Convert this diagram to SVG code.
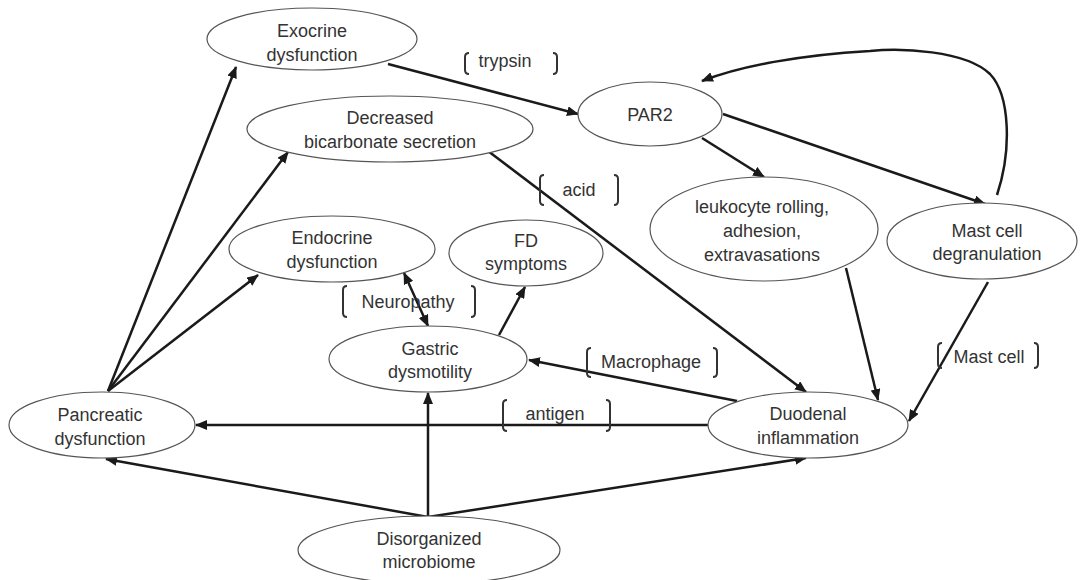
<svg xmlns="http://www.w3.org/2000/svg" width="1080" height="580" viewBox="0 0 1080 580">
<defs>
<marker id="ah" markerUnits="userSpaceOnUse" markerWidth="12" markerHeight="10" refX="11" refY="5" orient="auto-start-reverse">
<path d="M0,0 L12,5 L0,10 z" fill="#1a1a1a"/>
</marker>
</defs>
<style>
.node ellipse{fill:#fff;stroke:#555;stroke-width:1.2}
text{font-family:"Liberation Sans",Arial,sans-serif;font-size:18px;fill:#333;text-anchor:middle}
.conn path{fill:none;stroke:#1a1a1a;stroke-width:2.5;marker-end:url(#ah)}
.conn path.both{marker-start:url(#ah)}
.br{fill:none;stroke:#333;stroke-width:2}
</style>
<rect width="1080" height="580" fill="#fff"/>
<g id="connectors" class="conn">
<path d="M388 64 L578 114"/>
<path d="M702 138 L764 177"/>
<path d="M723 114 L985 204"/>
<path d="M997 195 C1012 150 1010 95 990 74 C965 50 900 48 870 51 C800 55 740 66 702 81"/>
<path d="M488 151 L806 392"/>
<path d="M846 268 L878 400"/>
<path d="M988 282 L909 421"/>
<path d="M737 401 L529 360"/>
<path d="M708 425 L196 425"/>
<path d="M428 517 L106 459"/>
<path d="M428 517 L806 458"/>
<path d="M428 517 L428 393"/>
<path d="M499 335 L525 287"/>
<path class="both" d="M404 273 L428 326"/>
<path d="M108 391 L236 67"/>
<path d="M108 391 L288 152"/>
<path d="M108 391 L258 275"/>
</g>
<g id="labels">
<path class="br" d="M469 53 Q465 53 465 57 L465 70 Q465 74 469 74"/>
<path class="br" d="M553 53 Q557 53 557 57 L557 70 Q557 74 553 74"/>
<text x="505" y="67">trypsin</text>
<path class="br" d="M544 175 Q540 175 540 179 L540 201 Q540 205 544 205"/>
<path class="br" d="M614 175 Q618 175 618 179 L618 201 Q618 205 614 205"/>
<text x="579" y="196">acid</text>
<path class="br" d="M347 286 Q343 286 343 290 L343 313 Q343 317 347 317"/>
<path class="br" d="M471 286 Q475 286 475 290 L475 313 Q475 317 471 317"/>
<text x="408" y="308">Neuropathy</text>
<path class="br" d="M591 348 Q587 348 587 352 L587 373 Q587 377 591 377"/>
<path class="br" d="M713 348 Q717 348 717 352 L717 373 Q717 377 713 377"/>
<text x="651" y="368">Macrophage</text>
<path class="br" d="M507 400 Q503 400 503 404 L503 427 Q503 431 507 431"/>
<path class="br" d="M606 400 Q610 400 610 404 L610 427 Q610 431 606 431"/>
<text x="555" y="420">antigen</text>
<path class="br" d="M942 343 Q938 343 938 347 L938 364 Q938 368 942 368"/>
<path class="br" d="M1034 343 Q1038 343 1038 347 L1038 364 Q1038 368 1034 368"/>
<text x="989" y="363">Mast cell</text>
</g>
<g id="exocrine" class="node"><ellipse cx="312" cy="39" rx="105" ry="31"/><text x="312" y="37">Exocrine</text><text x="312" y="61">dysfunction</text></g>
<g id="bicarbonate" class="node"><ellipse cx="390" cy="129" rx="143" ry="33"/><text x="390" y="124">Decreased</text><text x="390" y="148">bicarbonate secretion</text></g>
<g id="par2" class="node"><ellipse cx="650" cy="114" rx="72" ry="32"/><text x="650" y="121">PAR2</text></g>
<g id="leukocyte" class="node"><ellipse cx="764" cy="229" rx="114" ry="52"/><text x="762" y="213">leukocyte rolling,</text><text x="762" y="237">adhesion,</text><text x="762" y="261">extravasations</text></g>
<g id="mastcell" class="node"><ellipse cx="982" cy="241" rx="95" ry="38"/><text x="987" y="237">Mast cell</text><text x="987" y="260">degranulation</text></g>
<g id="endocrine" class="node"><ellipse cx="332" cy="249" rx="103" ry="33"/><text x="332" y="244">Endocrine</text><text x="332" y="268">dysfunction</text></g>
<g id="fd" class="node"><ellipse cx="526" cy="253" rx="77" ry="33"/><text x="526" y="247">FD</text><text x="526" y="270">symptoms</text></g>
<g id="gastric" class="node"><ellipse cx="428" cy="359" rx="99" ry="33"/><text x="430" y="355">Gastric</text><text x="430" y="378">dysmotility</text></g>
<g id="pancreatic" class="node"><ellipse cx="102" cy="425" rx="93" ry="33"/><text x="100" y="421">Pancreatic</text><text x="100" y="445">dysfunction</text></g>
<g id="duodenal" class="node"><ellipse cx="808" cy="425" rx="100" ry="33"/><text x="808" y="420">Duodenal</text><text x="808" y="444">inflammation</text></g>
<g id="microbiome" class="node"><ellipse cx="429" cy="550" rx="131" ry="34"/><text x="429" y="545">Disorganized</text><text x="429" y="568">microbiome</text></g>
</svg>
